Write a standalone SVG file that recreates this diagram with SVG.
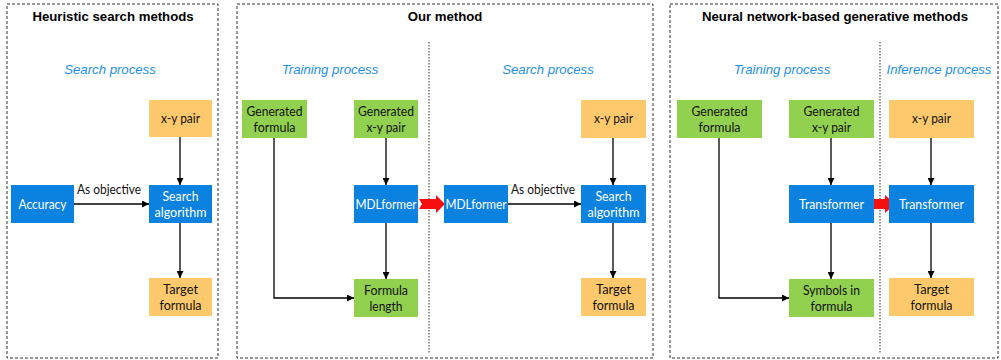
<svg xmlns="http://www.w3.org/2000/svg" width="1001" height="360" viewBox="0 0 1001 360">
<style>
.panel{fill:none;stroke:#333;stroke-width:1;stroke-dasharray:3,2}
.div{stroke:#333;stroke-width:1;stroke-dasharray:1.5,1.5}
.title{font-family:"Liberation Sans",Arial,sans-serif;font-weight:bold;font-size:13.2px;fill:#000;text-anchor:middle}
.proc{font-family:"Liberation Sans",Arial,sans-serif;font-style:italic;font-size:13.2px;fill:#1E8FE6;text-anchor:middle}
.blue{fill:#0B82E0}
.org{fill:#FDC96C}
.grn{fill:#92D050}
text.t,text.tw,text.lbl{font-family:Lato,"Noto Sans",sans-serif;font-size:14.3px;text-anchor:middle}
.t,.lbl{fill:#111}
.tw{fill:#fff}
.c{fill:none;stroke:#000;stroke-width:1.3;marker-end:url(#ah)}
.red{fill:#F50F0F}
</style>
<defs>
<marker id="ah" viewBox="0 0 10 10" refX="10" refY="5" markerWidth="7" markerHeight="7" markerUnits="userSpaceOnUse" orient="auto">
<path d="M0,0 L10,5 L0,10 z" fill="#000"/>
</marker>
</defs>

<rect class="panel" x="7" y="4" width="211" height="354"/>
<rect class="panel" x="237" y="4" width="416" height="354"/>
<rect class="panel" x="670" y="4" width="328" height="354"/>
<line class="div" x1="429" y1="42" x2="429" y2="353"/>
<line class="div" x1="880" y1="42" x2="880" y2="353"/>

<text class="title" x="113" y="21">Heuristic search methods</text>
<text class="title" x="445" y="21">Our method</text>
<text class="title" x="835" y="21">Neural network-based generative methods</text>

<text class="proc" x="110" y="74">Search process</text>
<text class="proc" x="330" y="74">Training process</text>
<text class="proc" x="548" y="74">Search process</text>
<text class="proc" x="782" y="74">Training process</text>
<text class="proc" x="939" y="74">Inference process</text>

<g id="connectors">
<line class="c" x1="180" y1="137" x2="180" y2="185"/>
<line class="c" x1="74" y1="204" x2="149" y2="204"/>
<line class="c" x1="180" y1="223" x2="180" y2="278"/>
<text class="lbl" x="109" y="194" textLength="64" lengthAdjust="spacingAndGlyphs">As objective</text>

<line class="c" x1="386" y1="138" x2="386" y2="185"/>
<line class="c" x1="386" y1="223" x2="386" y2="279"/>
<polyline class="c" points="274,138 274,298 354,298"/>
<line class="c" x1="508" y1="204" x2="581" y2="204"/>
<text class="lbl" x="543" y="194" textLength="64" lengthAdjust="spacingAndGlyphs">As objective</text>
<line class="c" x1="613" y1="138" x2="613" y2="185"/>
<line class="c" x1="613" y1="223" x2="613" y2="278"/>

<line class="c" x1="831" y1="138" x2="831" y2="185"/>
<line class="c" x1="831" y1="223" x2="831" y2="279"/>
<polyline class="c" points="719,138 719,298 789,298"/>
<line class="c" x1="931" y1="138" x2="931" y2="185"/>
<line class="c" x1="931" y1="223" x2="931" y2="278"/>

<polygon class="red" points="419,199 436,199 436,195 445,204 436,213 436,209 419,209 422,204"/>
<polygon class="red" points="866,199 885,199 885,195 895,204 885,213 885,209 866,209 869,204"/>
</g>

<g id="n-xy1"><rect class="org" x="149" y="100" width="63" height="37"/><text class="t" x="180.5" y="123" textLength="39" lengthAdjust="spacingAndGlyphs">x-y pair</text></g>
<g id="n-acc"><rect class="blue" x="11" y="185" width="63" height="38"/><text class="tw" x="42.5" y="209" textLength="48" lengthAdjust="spacingAndGlyphs">Accuracy</text></g>
<g id="n-search1"><rect class="blue" x="149" y="185" width="63" height="38"/><text class="tw" x="180.5" y="201" textLength="36" lengthAdjust="spacingAndGlyphs">Search</text><text class="tw" x="180.5" y="217" textLength="52" lengthAdjust="spacingAndGlyphs">algorithm</text></g>
<g id="n-target1"><rect class="org" x="149" y="278" width="63" height="38"/><text class="t" x="180.5" y="294" textLength="35" lengthAdjust="spacingAndGlyphs">Target</text><text class="t" x="180.5" y="310" textLength="42" lengthAdjust="spacingAndGlyphs">formula</text></g>

<g id="n-genf2"><rect class="grn" x="242" y="100" width="65" height="38"/><text class="t" x="274.5" y="116" textLength="56" lengthAdjust="spacingAndGlyphs">Generated</text><text class="t" x="274.5" y="132" textLength="42" lengthAdjust="spacingAndGlyphs">formula</text></g>
<g id="n-genxy2"><rect class="grn" x="354" y="100" width="64" height="38"/><text class="t" x="386" y="116" textLength="56" lengthAdjust="spacingAndGlyphs">Generated</text><text class="t" x="386" y="132" textLength="39" lengthAdjust="spacingAndGlyphs">x-y pair</text></g>
<g id="n-mdl1"><rect class="blue" x="354" y="185" width="64" height="38"/><text class="tw" x="386" y="209" textLength="61" lengthAdjust="spacingAndGlyphs">MDLformer</text></g>
<g id="n-flen"><rect class="grn" x="354" y="279" width="64" height="38"/><text class="t" x="386" y="295" textLength="44" lengthAdjust="spacingAndGlyphs">Formula</text><text class="t" x="386" y="311" textLength="33" lengthAdjust="spacingAndGlyphs">length</text></g>
<g id="n-mdl2"><rect class="blue" x="444" y="185" width="64" height="38"/><text class="tw" x="476" y="209" textLength="61" lengthAdjust="spacingAndGlyphs">MDLformer</text></g>
<g id="n-xy2"><rect class="org" x="581" y="100" width="65" height="38"/><text class="t" x="613.5" y="123" textLength="39" lengthAdjust="spacingAndGlyphs">x-y pair</text></g>
<g id="n-search2"><rect class="blue" x="581" y="185" width="65" height="38"/><text class="tw" x="613.5" y="201" textLength="36" lengthAdjust="spacingAndGlyphs">Search</text><text class="tw" x="613.5" y="217" textLength="52" lengthAdjust="spacingAndGlyphs">algorithm</text></g>
<g id="n-target2"><rect class="org" x="581" y="278" width="65" height="38"/><text class="t" x="613.5" y="294" textLength="35" lengthAdjust="spacingAndGlyphs">Target</text><text class="t" x="613.5" y="310" textLength="42" lengthAdjust="spacingAndGlyphs">formula</text></g>

<g id="n-genf3"><rect class="grn" x="677" y="100" width="85" height="38"/><text class="t" x="719.5" y="116" textLength="56" lengthAdjust="spacingAndGlyphs">Generated</text><text class="t" x="719.5" y="132" textLength="42" lengthAdjust="spacingAndGlyphs">formula</text></g>
<g id="n-genxy3"><rect class="grn" x="789" y="100" width="85" height="38"/><text class="t" x="831.5" y="116" textLength="56" lengthAdjust="spacingAndGlyphs">Generated</text><text class="t" x="831.5" y="132" textLength="39" lengthAdjust="spacingAndGlyphs">x-y pair</text></g>
<g id="n-tr1"><rect class="blue" x="789" y="185" width="85" height="38"/><text class="tw" x="831.5" y="209" textLength="65" lengthAdjust="spacingAndGlyphs">Transformer</text></g>
<g id="n-sym"><rect class="grn" x="789" y="279" width="85" height="38"/><text class="t" x="831.5" y="295" textLength="57" lengthAdjust="spacingAndGlyphs">Symbols in</text><text class="t" x="831.5" y="311" textLength="42" lengthAdjust="spacingAndGlyphs">formula</text></g>
<g id="n-xy3"><rect class="org" x="889" y="100" width="85" height="38"/><text class="t" x="931.5" y="123" textLength="39" lengthAdjust="spacingAndGlyphs">x-y pair</text></g>
<g id="n-tr2"><rect class="blue" x="889" y="185" width="85" height="38"/><text class="tw" x="931.5" y="209" textLength="65" lengthAdjust="spacingAndGlyphs">Transformer</text></g>
<g id="n-target3"><rect class="org" x="889" y="278" width="85" height="38"/><text class="t" x="931.5" y="294" textLength="35" lengthAdjust="spacingAndGlyphs">Target</text><text class="t" x="931.5" y="310" textLength="42" lengthAdjust="spacingAndGlyphs">formula</text></g>
</svg>
